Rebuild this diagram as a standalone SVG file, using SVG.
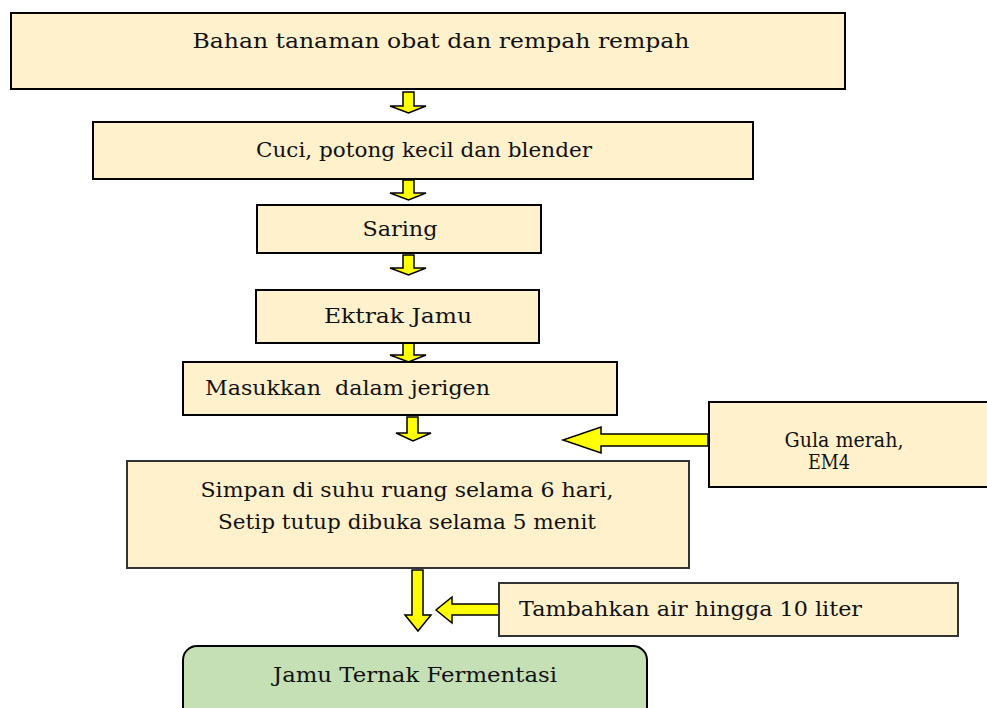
<svg xmlns="http://www.w3.org/2000/svg" width="987" height="708" viewBox="0 0 987 708">
<style>
.box{fill:#fff1cc;stroke:#000;stroke-width:2}
.gbox{fill:#c5e0b4;stroke:#000;stroke-width:2}
.arr{fill:#ffff00;stroke:#000;stroke-width:1.5;stroke-linejoin:miter}
text{font-family:"DejaVu Serif","Liberation Serif",serif;font-size:20px;fill:#111}
</style>
<rect width="987" height="708" fill="#fff"/>
<g id="connectors">
<polygon class="arr" points="403,92 414,92 414,106 426,106 408.5,113 390,106 403,106"/>
<polygon class="arr" points="403,180 414,180 414,193 426,193 408.5,200 390,193 403,193"/>
<polygon class="arr" points="403,255 414,255 414,268 426,268 408.5,275 390,268 403,268"/>
<polygon class="arr" points="403,342 414,342 414,355 426,355 408.5,362 390,355 403,355"/>
<polygon class="arr" points="407,417 418,417 418,433 431,433 413,441 396,433 407,433"/>
<polygon class="arr" points="708,434 601,434 601,427 563,440 601,453 601,446 708,446"/>
<polygon class="arr" points="412,570 423,570 423,615 431,615 418,631 405,615 412,615"/>
<polygon class="arr" points="499,604 452,604 452,597 436,610 452,623 452,615 499,615"/>
</g>
<g id="n1"><rect class="box" x="11" y="13" width="834" height="76"/><text x="441" y="48" text-anchor="middle" textLength="497" lengthAdjust="spacingAndGlyphs">Bahan tanaman obat dan rempah rempah</text></g>
<g id="n2"><rect class="box" x="93" y="122" width="660" height="57"/><text x="424" y="157" text-anchor="middle" textLength="336" lengthAdjust="spacingAndGlyphs">Cuci, potong kecil dan blender</text></g>
<g id="n3"><rect class="box" x="257" y="205" width="284" height="48"/><text x="400" y="236" text-anchor="middle" textLength="75" lengthAdjust="spacingAndGlyphs">Saring</text></g>
<g id="n4"><rect class="box" x="256" y="290" width="283" height="53"/><text x="398" y="323" text-anchor="middle" textLength="148" lengthAdjust="spacingAndGlyphs">Ektrak Jamu</text></g>
<g id="n5"><rect class="box" x="183" y="362" width="434" height="53"/><text x="205" y="395" textLength="285" lengthAdjust="spacingAndGlyphs" style="white-space:pre">Masukkan  dalam jerigen</text></g>
<g id="n6"><rect class="box" x="127" y="461" width="562" height="107" style="stroke:#333"/><text x="407" y="497" text-anchor="middle" textLength="413" lengthAdjust="spacingAndGlyphs">Simpan di suhu ruang selama 6 hari,</text><text x="407" y="529" text-anchor="middle" textLength="378" lengthAdjust="spacingAndGlyphs">Setip tutup dibuka selama 5 menit</text></g>
<g id="n7"><rect class="box" x="709" y="402" width="290" height="85"/><text x="844" y="447" text-anchor="middle" textLength="119" lengthAdjust="spacingAndGlyphs">Gula merah,</text><text x="829" y="469" text-anchor="middle" textLength="42" lengthAdjust="spacingAndGlyphs">EM4</text></g>
<g id="n8"><rect class="box" x="499" y="583" width="459" height="53" style="stroke:#333"/><text x="519" y="616" textLength="343" lengthAdjust="spacingAndGlyphs">Tambahkan air hingga 10 liter</text></g>
<g id="n9"><rect class="gbox" x="183" y="646" width="464" height="80" rx="14"/><text x="415" y="682" text-anchor="middle" textLength="284" lengthAdjust="spacingAndGlyphs">Jamu Ternak Fermentasi</text></g>
</svg>
